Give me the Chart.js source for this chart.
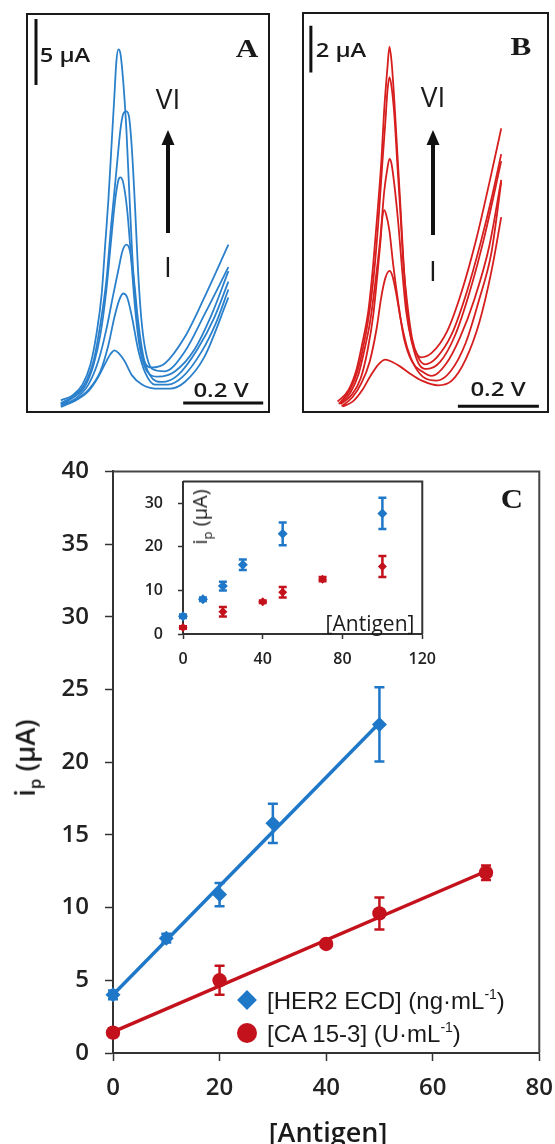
<!DOCTYPE html>
<html>
<head>
<meta charset="utf-8">
<script src="https://cdn.jsdelivr.net/npm/chart.js@4.4.1/dist/chart.umd.min.js"></script>
<style>
  html, body { margin: 0; padding: 0; background: #fff; }
  #page { position: relative; width: 555px; height: 1144px; overflow: hidden; color: #1a1a1a;
          font-family: 'Open Sans', sans-serif; }
  canvas, .box, .txt, .mark { position: absolute; }
  .box { border: 2px solid #1a1a1a; box-sizing: border-box; }
  .txt { white-space: nowrap; line-height: 1; transform: translate(-50%, -50%); }
  .serif { font-family: 'Liberation Serif', serif; font-weight: 700; }
  .semi { font-weight: 600; }
  .leg { position: absolute; left: 267px; white-space: nowrap; line-height: 1; transform: translateY(-50%);
         font-family: 'Liberation Sans', sans-serif; font-size: 24px; }
  .leg span { font-size: 14px; vertical-align: 10px; }
</style>
</head>
<body>
<div id="page">
  <!-- panel A -->
  <div class="box" style="left:26px;top:13px;width:244px;height:400px">
    <canvas id="panelA" width="240" height="396" style="left:0;top:0"></canvas>
  </div>
  <div class="txt semi" style="left:65px;top:55px;font-size:19px;transform:translate(-50%,-50%) scaleX(1.25)">5 μA</div>
  <div class="txt serif" style="left:247px;top:49px;font-size:26px;transform:translate(-50%,-50%) scaleX(1.2)">A</div>
  <div class="txt" style="left:168px;top:98px;font-size:28px">VI</div>
  <div class="txt" style="left:168px;top:266px;font-size:28px">I</div>
  <div class="txt semi" style="left:221px;top:390px;font-size:20px;transform:translate(-50%,-50%) scaleX(1.2)">0.2 V</div>

  <!-- panel B -->
  <div class="box" style="left:302px;top:12px;width:247px;height:401px">
    <canvas id="panelB" width="243" height="397" style="left:0;top:0"></canvas>
  </div>
  <div class="txt semi" style="left:341px;top:50px;font-size:19px;transform:translate(-50%,-50%) scaleX(1.25)">2 μA</div>
  <div class="txt serif" style="left:521px;top:47px;font-size:26px;transform:translate(-50%,-50%) scaleX(1.2)">B</div>
  <div class="txt" style="left:433px;top:96px;font-size:28px">VI</div>
  <div class="txt" style="left:433px;top:270px;font-size:28px">I</div>
  <div class="txt semi" style="left:498px;top:389px;font-size:20px;transform:translate(-50%,-50%) scaleX(1.2)">0.2 V</div>

  <!-- panel C -->
  <canvas id="chartC" width="566" height="703" style="left:0;top:441px"></canvas>
  <canvas id="inset" width="322" height="218" style="left:125px;top:457px"></canvas>
  <div class="txt serif" style="left:512px;top:499px;font-size:28px;transform:translate(-50%,-50%) scaleX(1.1)">C</div>
  <div class="txt semi" style="left:27px;top:758px;font-size:27px;transform:translate(-50%,-50%) rotate(-90deg)">i<sub style="font-size:17px">p</sub> (μA)</div>
  <div class="txt semi" style="left:328px;top:1131px;font-size:27px">[Antigen]</div>
  <div class="txt" style="left:202px;top:517px;font-size:20px;transform:translate(-50%,-50%) rotate(-90deg)">i<sub style="font-size:13px">p</sub> (μA)</div>
  <div class="txt" style="left:370px;top:623px;font-size:21px">[Antigen]</div>

  <div class="mark" style="left:240px;top:993px;width:14px;height:14px;background:#1f77c8;transform:rotate(45deg)"></div>
  <div class="mark" style="left:237px;top:1023px;width:20px;height:20px;border-radius:50%;background:#c4121c"></div>
  <div class="leg" style="top:1000px">[HER2 ECD] (ng·mL<span>-1</span>)</div>
  <div class="leg" style="top:1033px">[CA 15-3] (U·mL<span>-1</span>)</div>
</div>

<script>
// ---- panel A: voltammograms, HER2 ECD series (E in mV, i in μA) ----
const curveA1 = [[82,0.3],[119,0.8],[151,1.5],[176,2.6],[193,3.6],[206,4.3],[216,4.6],[226,4.4],[241,3.8],[260,2.7],[285,2.0],[317,1.7],[355,1.7],[392,2.2],[441,4.1],[501,8.6]];
const curveA2 = [[82,0.4],[117,0.8],[151,1.6],[181,3.0],[201,5.0],[216,7.1],[228,8.4],[238,8.9],[248,8.6],[260,7.1],[275,4.7],[293,2.9],[317,2.0],[350,2.0],[387,2.6],[434,4.5],[469,6.6],[501,9.2]];
const curveA3 = [[82,0.5],[117,0.9],[151,2.0],[176,3.8],[196,6.2],[213,8.8],[226,10.7],[236,12.1],[246,12.6],[255,12.1],[265,9.9],[275,6.9],[288,4.2],[305,2.7],[335,2.2],[374,2.7],[424,4.7],[466,7.1],[501,9.8]];
const curveA4 = [[82,0.5],[112,1.0],[141,1.8],[164,3.5],[181,5.8],[196,9.2],[208,13.0],[218,16.0],[226,17.5],[231,17.7],[238,17.3],[248,15.2],[258,11.5],[268,7.7],[280,4.7],[298,3.0],[325,2.6],[367,3.0],[417,4.7],[459,7.3],[501,10.6]];
const curveA5 = [[82,0.6],[112,1.1],[141,2.0],[164,3.8],[181,6.6],[196,9.9],[208,14.1],[221,18.2],[231,21.3],[238,22.5],[246,22.7],[253,22.2],[260,19.7],[268,15.2],[275,10.7],[283,7.1],[293,4.7],[310,3.2],[342,3.0],[392,4.5],[441,7.3],[501,10.9]];
const curveA6 = [[82,0.8],[112,1.2],[136,2.0],[156,3.5],[171,5.8],[184,8.8],[193,12.6],[201,16.0],[208,19.7],[216,23.9],[221,26.5],[226,27.4],[231,27.1],[238,25.0],[246,21.3],[253,16.7],[260,12.2],[268,8.4],[278,5.4],[290,3.8],[310,3.3],[342,3.6],[392,5.6],[441,8.6],[501,12.6]];

// ---- panel B: voltammograms, CA 15-3 series ----
const curveB1 = [[96,0.2],[120,0.4],[144,0.9],[164,1.5],[184,2.0],[201,2.2],[218,2.1],[238,1.9],[262,1.6],[291,1.3],[331,1.1],[365,1.3],[399,2.2],[433,3.8],[463,6.0],[487,8.3]];
const curveB2 = [[93,0.2],[120,0.6],[142,1.2],[162,2.1],[179,3.5],[191,4.9],[201,5.7],[211,6.0],[218,5.8],[228,5.0],[240,3.8],[255,2.7],[274,1.9],[299,1.4],[328,1.3],[362,1.7],[399,2.9],[433,4.8],[463,6.8],[487,9.8]];
const curveB3 = [[91,0.3],[118,0.7],[140,1.4],[157,2.6],[171,4.1],[181,5.8],[189,7.3],[193,8.2],[198,8.6],[203,8.4],[211,7.7],[220,6.3],[233,4.6],[247,3.1],[267,2.1],[291,1.7],[316,1.5],[350,2.0],[384,3.1],[421,4.8],[458,7.1],[487,9.9]];
const curveB4 = [[88,0.3],[115,0.8],[135,1.6],[149,2.6],[164,3.9],[176,5.5],[189,7.5],[198,9.4],[206,10.4],[211,10.8],[216,10.6],[223,9.7],[233,8.0],[242,6.1],[252,4.3],[267,2.9],[284,2.0],[304,1.8],[336,2.1],[372,3.2],[409,5.1],[446,7.5],[487,10.7]];
const curveB5 = [[86,0.3],[113,0.9],[132,1.7],[147,2.8],[162,4.3],[174,6.1],[184,8.2],[193,10.5],[201,12.4],[206,13.7],[211,14.3],[216,13.9],[223,12.7],[230,10.7],[238,8.5],[245,6.4],[255,4.6],[267,3.1],[282,2.3],[299,2.0],[328,2.3],[365,3.3],[402,5.1],[436,7.2],[463,9.1],[487,11.0]];
const curveB6 = [[83,0.4],[110,0.9],[130,1.8],[144,2.9],[159,4.3],[171,6.3],[181,8.4],[191,10.7],[198,12.9],[206,14.7],[211,15.6],[216,15.0],[223,13.3],[230,11.2],[238,8.8],[245,6.6],[252,4.8],[262,3.3],[274,2.6],[289,2.3],[316,2.5],[353,3.4],[389,5.1],[426,7.4],[458,9.8],[487,12.1]];

const barCurrentA = 5;     // μA
const barCurrentB = 2;     // μA
const barPotential = 200;  // mV

// ---- panel C: calibration plots ----
const herConc    = [0, 10, 20, 30, 50];
const herCurrent = [4.0, 7.9, 10.9, 15.8, 22.6];
const herError   = [0.3, 0.3, 0.8, 1.35, 2.55];
const caConc     = [0, 20, 40, 50, 70];
const caCurrent  = [1.4, 5.0, 7.5, 9.6, 12.4];
const caError    = [0.3, 1.0, 0.2, 1.1, 0.5];
const herFitX = [0, 50],  herFitY = [4.0, 22.7];
const caFitX  = [0, 70],  caFitY  = [1.45, 12.5];

// inset: full concentration range
const insetHerConc    = [0, 10, 20, 30, 50, 100];
const insetHerCurrent = [4.1, 8.0, 11.0, 15.9, 23.0, 27.7];
const insetHerError   = [0.4, 0.4, 1.0, 1.2, 2.6, 3.6];
const insetCaConc     = [0, 20, 40, 50, 70, 100];
const insetCaCurrent  = [1.5, 5.1, 7.4, 9.6, 12.6, 15.5];
const insetCaError    = [0.3, 1.1, 0.3, 1.2, 0.5, 2.4];

const mainTicksY = [0, 5, 10, 15, 20, 25, 30, 35, 40];
const mainTicksX = [0, 20, 40, 60, 80];
const insetTicksY = [0, 10, 20, 30];
const insetTicksX = [0, 40, 80, 120];

const BLUE = '#1f77c8';
const RED  = '#c4121c';

Chart.defaults.font.family = "'Open Sans', sans-serif";
Chart.defaults.color = '#222';

const toXY = pairs => pairs.map(p => ({ x: p[0], y: p[1] }));
const zipXY = (xs, ys) => xs.map((v, i) => ({ x: v, y: ys[i] }));

// scale bars + arrow inside panels A and B
const panelMarks = {
  id: 'panelMarks',
  afterDraw(chart, args, o) {
    const { ctx, scales: { x, y } } = chart;
    ctx.save();
    ctx.strokeStyle = '#111';
    ctx.fillStyle = '#111';
    ctx.lineWidth = 3;
    ctx.beginPath();
    const vx = x.getPixelForValue(o.vBarAt);
    ctx.moveTo(vx, y.getPixelForValue(o.vBarTop));
    ctx.lineTo(vx, y.getPixelForValue(o.vBarTop - o.currentBar));
    const hy = y.getPixelForValue(o.hBarAt);
    ctx.moveTo(x.getPixelForValue(o.hBarStart), hy);
    ctx.lineTo(x.getPixelForValue(o.hBarStart + barPotential), hy);
    ctx.stroke();

    const a = o.arrow;
    ctx.lineWidth = 4;
    ctx.beginPath();
    ctx.moveTo(a.x, a.tail);
    ctx.lineTo(a.x, a.tip + 12);
    ctx.stroke();
    ctx.beginPath();
    ctx.moveTo(a.x, a.tip);
    ctx.lineTo(a.x - 6.5, a.tip + 15);
    ctx.lineTo(a.x + 6.5, a.tip + 15);
    ctx.closePath();
    ctx.fill();
    ctx.restore();
  }
};

function panelChart(id, curves, color, yMax, marks) {
  new Chart(document.getElementById(id), {
    type: 'scatter',
    data: {
      datasets: curves.map(c => ({
        data: toXY(c),
        showLine: true,
        borderColor: color,
        borderWidth: 1.8,
        pointRadius: 0,
        cubicInterpolationMode: 'monotone',
        clip: false,
      })),
    },
    options: {
      responsive: false,
      animation: false,
      layout: { padding: 0 },
      plugins: { legend: { display: false }, tooltip: { enabled: false }, panelMarks: marks },
      scales: {
        x: { type: 'linear', display: false, min: 0, max: 600 },
        y: { type: 'linear', display: false, min: 0, max: yMax },
      },
    },
    plugins: [panelMarks],
  });
}

panelChart('panelA', [curveA1, curveA2, curveA3, curveA4, curveA5, curveA6], '#2b80cc', 30, {
  vBarAt: 20, vBarTop: 29.7, currentBar: barCurrentA, hBarAt: 0.6, hBarStart: 388,
  arrow: { x: 140, tip: 115, tail: 218 },
});
panelChart('panelB', [curveB1, curveB2, curveB3, curveB4, curveB5, curveB6], '#d71e1e', 17, {
  vBarAt: 17, vBarTop: 16.5, currentBar: barCurrentB, hBarAt: 0.2, hBarStart: 380,
  arrow: { x: 129, tip: 116, tail: 221 },
});

// error bars from dataset.errors
const errorBars = {
  id: 'errorBars',
  afterDatasetsDraw(chart, args, o) {
    const { ctx, scales: { x, y } } = chart;
    chart.data.datasets.forEach(ds => {
      if (!ds.errors) return;
      ctx.save();
      ctx.strokeStyle = ds.backgroundColor;
      ctx.lineWidth = o.width;
      ds.data.forEach((p, j) => {
        const e = ds.errors[j];
        const px = x.getPixelForValue(p.x);
        const top = y.getPixelForValue(p.y + e);
        const bot = y.getPixelForValue(p.y - e);
        ctx.beginPath();
        ctx.moveTo(px, top); ctx.lineTo(px, bot);
        ctx.moveTo(px - o.cap, top); ctx.lineTo(px + o.cap, top);
        ctx.moveTo(px - o.cap, bot); ctx.lineTo(px + o.cap, bot);
        ctx.stroke();
      });
      ctx.restore();
    });
  }
};

// top + right edges of the plot frame
const frame = {
  id: 'frame',
  afterDraw(chart, args, o) {
    const { ctx, chartArea: a } = chart;
    ctx.save();
    ctx.strokeStyle = o.color;
    ctx.lineWidth = o.width;
    ctx.beginPath();
    ctx.moveTo(a.left, a.top);
    ctx.lineTo(a.right, a.top);
    ctx.lineTo(a.right, a.bottom);
    ctx.stroke();
    ctx.restore();
  }
};

function axisOpts(min, max, tickList, font, tickLen, pad, fitSize, isY) {
  return {
    type: 'linear', min, max,
    afterFit: s => { if (isY) s.width = fitSize; else s.height = fitSize; },
    afterBuildTicks: s => { s.ticks = tickList.map(v => ({ value: v })); },
    grid: { display: true, drawOnChartArea: false, drawTicks: true, tickLength: tickLen,
            tickColor: '#333', tickWidth: 1.5 },
    border: { display: true, color: '#333', width: 2 },
    ticks: { font, color: '#222', padding: pad, maxRotation: 0 },
  };
}

new Chart(document.getElementById('chartC'), {
  type: 'scatter',
  data: {
    datasets: [
      { data: zipXY(herFitX, herFitY), showLine: true, borderColor: BLUE, borderWidth: 3.5, pointRadius: 0, clip: false },
      { data: zipXY(caFitX, caFitY), showLine: true, borderColor: RED, borderWidth: 3.5, pointRadius: 0, clip: false },
      { data: zipXY(herConc, herCurrent), errors: herError, pointStyle: 'rectRot', pointRadius: 7.5,
        backgroundColor: BLUE, borderColor: BLUE, borderWidth: 0, clip: false },
      { data: zipXY(caConc, caCurrent), errors: caError, pointStyle: 'circle', pointRadius: 7.2,
        backgroundColor: RED, borderColor: RED, borderWidth: 0, clip: false },
    ],
  },
  options: {
    responsive: false,
    animation: false,
    layout: { padding: 0 },
    plugins: { legend: { display: false }, tooltip: { enabled: false },
               errorBars: { width: 2.5, cap: 5 }, frame: { color: '#444', width: 2 } },
    scales: {
      x: axisOpts(0, 80, mainTicksX, { size: 24, weight: '600' }, 8, 13, 91, false),
      y: axisOpts(0, 40, mainTicksY, { size: 24, weight: '600' }, 8, 16, 113, true),
    },
  },
  plugins: [errorBars, frame],
});

new Chart(document.getElementById('inset'), {
  type: 'scatter',
  data: {
    datasets: [
      { data: zipXY(insetHerConc, insetHerCurrent), errors: insetHerError, pointStyle: 'rectRot', pointRadius: 5,
        backgroundColor: BLUE, borderColor: BLUE, borderWidth: 0, clip: false },
      { data: zipXY(insetCaConc, insetCaCurrent), errors: insetCaError, pointStyle: 'rectRot', pointRadius: 4.5,
        backgroundColor: RED, borderColor: RED, borderWidth: 0, clip: false },
    ],
  },
  options: {
    responsive: false,
    animation: false,
    layout: { padding: 0 },
    plugins: { legend: { display: false }, tooltip: { enabled: false },
               errorBars: { width: 2.5, cap: 4 }, frame: { color: '#333', width: 2 } },
    scales: {
      x: axisOpts(0, 120, insetTicksX, { size: 16, weight: '600' }, 5, 11, 41, false),
      y: axisOpts(0, 35, insetTicksY, { size: 16, weight: '600' }, 5, 15, 58, true),
    },
  },
  plugins: [errorBars, frame],
});
</script>
</body>
</html>
